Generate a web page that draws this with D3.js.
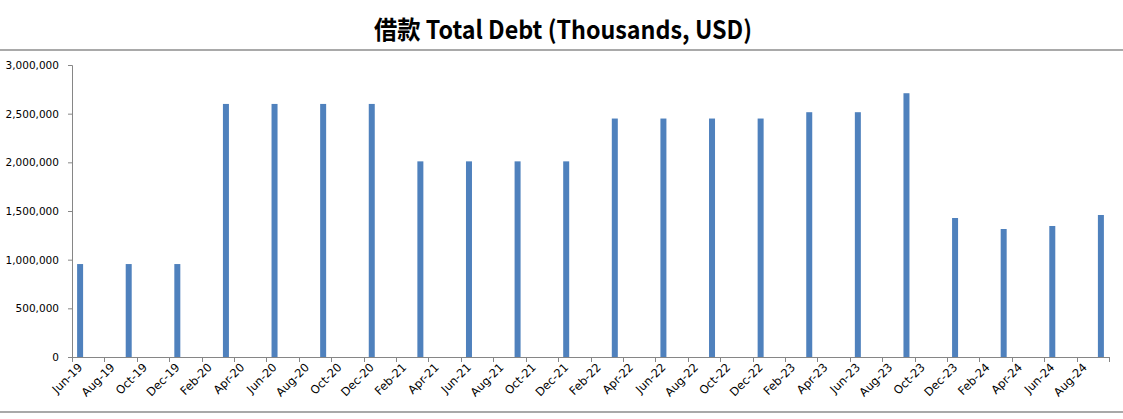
<!DOCTYPE html>
<html><head><meta charset="utf-8">
<script src="https://cdn.jsdelivr.net/npm/d3@7"></script>
<style>
body{margin:0;background:#fff;}
svg{display:block;}
</style></head>
<body>
<script>
const title = "借款 Total Debt (Thousands, USD)";
const quarters = ["2019-06","2019-09","2019-12","2020-03","2020-06","2020-09","2020-12","2021-03","2021-06","2021-09","2021-12","2022-03","2022-06","2022-09","2022-12","2023-03","2023-06","2023-09","2023-12","2024-03","2024-06","2024-09"];
const debt = [955000,955000,955000,2600000,2600000,2600000,2600000,2010000,2010000,2010000,2010000,2450000,2450000,2450000,2450000,2515000,2515000,2710000,1428000,1315000,1346000,1459000];
const xTickLabels = ["Jun-19","Aug-19","Oct-19","Dec-19","Feb-20","Apr-20","Jun-20","Aug-20","Oct-20","Dec-20","Feb-21","Apr-21","Jun-21","Aug-21","Oct-21","Dec-21","Feb-22","Apr-22","Jun-22","Aug-22","Oct-22","Dec-22","Feb-23","Apr-23","Jun-23","Aug-23","Oct-23","Dec-23","Feb-24","Apr-24","Jun-24","Aug-24"];
const yTicks = [0,500000,1000000,1500000,2000000,2500000,3000000];

const W = 1123, H = 419;
const svg = d3.select("body").append("svg").attr("width", W).attr("height", H);

const fmtKey = d3.timeFormat("%Y-%m");
const months = d3.timeMonth.range(new Date(2019,5,1), new Date(2024,9,1)).map(fmtKey);

const x = d3.scaleBand().domain(months).range([72, 1109]).paddingInner(0).paddingOuter(0);
const y = d3.scaleLinear().domain([0, 3000000]).range([357, 65]);
const axisColor = "#868686";

// title
svg.append("text").attr("x", 563).attr("y", 39).attr("text-anchor", "middle")
  .attr("font-family", "'Noto Sans CJK SC',sans-serif")
  .attr("font-weight", "bold").attr("font-size", 25).attr("fill", "#000")
  .attr("textLength", 378).attr("lengthAdjust", "spacingAndGlyphs").text(title);

svg.append("line").attr("x1", 0).attr("x2", W).attr("y1", 50).attr("y2", 50)
  .attr("stroke", "#8c8c8c").attr("stroke-width", 1.5);
svg.append("line").attr("x1", 0).attr("x2", W).attr("y1", 412).attr("y2", 412)
  .attr("stroke", "#8c8c8c").attr("stroke-width", 1.5);

// bars
const bw = 6;
svg.append("g").selectAll("rect").data(quarters).join("rect")
  .attr("x", (d) => x(d) + x.bandwidth()/2 - bw/2)
  .attr("width", bw)
  .attr("y", (d,i) => y(debt[i]))
  .attr("height", (d,i) => y(0) - y(debt[i]))
  .attr("fill", "#4F81BD");

// y axis
const yAxis = svg.append("g").attr("transform", "translate(72,0)")
  .call(d3.axisLeft(y).tickValues(yTicks).tickFormat(d3.format(",")).tickSize(4).tickPadding(9));
yAxis.select(".domain").attr("stroke", axisColor);
yAxis.selectAll(".tick line").attr("stroke", axisColor);
yAxis.selectAll("text").attr("font-family", "'DejaVu Sans',sans-serif").attr("font-size", 10.5).attr("fill", "#000");

// x axis
const tickMonths = months.filter((d,i) => i % 2 === 0);
const xg = svg.append("g");
xg.append("line").attr("x1", x.range()[0]).attr("x2", x.range()[1]).attr("y1", y(0)+0.5).attr("y2", y(0)+0.5).attr("stroke", axisColor);
const tickPos = tickMonths.map(m => x(m)).concat([x.range()[1]]);
xg.selectAll("line.tk").data(tickPos).join("line").attr("class","tk")
  .attr("x1", d => Math.round(d)+0.5).attr("x2", d => Math.round(d)+0.5)
  .attr("y1", y(0)).attr("y2", y(0)+5).attr("stroke", axisColor);
xg.selectAll("text").data(tickMonths).join("text")
  .attr("transform", (d) => `translate(${x(d) + x.bandwidth()/2 + 3},${y(0)+11}) rotate(-45)`)
  .attr("text-anchor", "end")
  .attr("font-family", "'DejaVu Sans',sans-serif").attr("font-size", 11.5).attr("fill", "#000")
  .text((d,i) => xTickLabels[i]);
</script>
</body></html>
